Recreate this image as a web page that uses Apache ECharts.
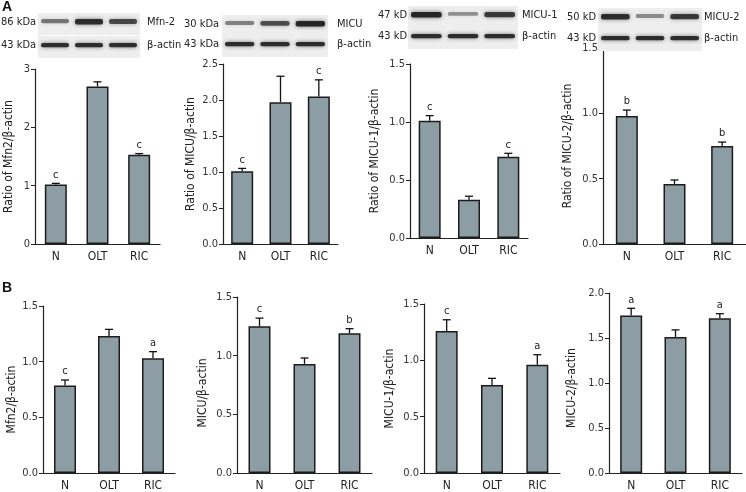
<!DOCTYPE html>
<html>
<head>
<meta charset="utf-8">
<script src="https://cdn.jsdelivr.net/npm/echarts@6/dist/echarts.min.js"></script>
<style>
  html, body { margin: 0; padding: 0; background: #fff; }
  #chart { width: 746px; height: 492px; }
</style>
</head>
<body>
<div id="chart"></div>
<script>
// groups
const cats = ['N', 'OLT', 'RIC']

// row A: ratio to beta-actin (mean, sem, significance letter)
const mfn2A = [1.02, 2.70, 1.53]
const mfn2AErr = [0.02, 0.08, 0.02]
const mfn2ASig = ['c', '', 'c']

const micuA = [1.01, 1.97, 2.05]
const micuAErr = [0.04, 0.36, 0.23]
const micuASig = ['c', '', 'c']

const micu1A = [1.01, 0.33, 0.70]
const micu1AErr = [0.045, 0.03, 0.03]
const micu1ASig = ['c', '', 'c']

const micu2A = [0.98, 0.46, 0.75]
const micu2AErr = [0.045, 0.03, 0.03]
const micu2ASig = ['b', '', 'b']

// row B
const mfn2B = [0.785, 1.23, 1.03]
const mfn2BErr = [0.05, 0.06, 0.06]
const mfn2BSig = ['c', '', 'a']

const micuB = [1.25, 0.93, 1.19]
const micuBErr = [0.07, 0.05, 0.04]
const micuBSig = ['c', '', 'b']

const micu1B = [1.26, 0.78, 0.96]
const micu1BErr = [0.10, 0.06, 0.09]
const micu1BSig = ['c', '', 'a']

const micu2B = [1.75, 1.51, 1.72]
const micu2BErr = [0.08, 0.08, 0.05]
const micu2BSig = ['a', '', 'a']

// western blot band strength per lane (target band, beta-actin)
const blotMfn2 = [0.45, 0.95, 0.75]
const blotMicu = [0.4, 0.7, 1.0]
const blotMicu1 = [1.0, 0.3, 0.85]
const blotMicu2 = [0.95, 0.35, 0.85]
const blotActin = [0.95, 0.95, 0.95]

const FONT = '"DejaVu Sans Condensed", "Liberation Sans", sans-serif'

const panels = [
  { vals: mfn2A, err: mfn2AErr, sig: mfn2ASig, name: 'Ratio of Mfn2/β-actin', max: 3, step: 1, dec: 0, left: 35, top: 69, w: 125, h: 175, gap: 20, shift: 0 },
  { vals: micuA, err: micuAErr, sig: micuASig, name: 'Ratio of MICU/β-actin', max: 2.5, step: 0.5, dec: 1, left: 223, top: 64, w: 115, h: 180, gap: 26, shift: 0 },
  { vals: micu1A, err: micu1AErr, sig: micu1ASig, name: 'Ratio of MICU-1/β-actin', max: 1.5, step: 0.5, dec: 1, left: 410, top: 64, w: 118, h: 174, gap: 29, shift: 0 },
  { vals: micu2A, err: micu2AErr, sig: micu2ASig, name: 'Ratio of MICU-2/β-actin', max: 1.5, step: 0.5, dec: 1, left: 603, top: 48, w: 143, h: 196, gap: 29, shift: 0 },
  { vals: mfn2B, err: mfn2BErr, sig: mfn2BSig, name: 'Mfn2/β-actin', max: 1.5, step: 0.5, dec: 1, left: 43, top: 306, w: 132, h: 170, gap: 25, shift: 20 },
  { vals: micuB, err: micuBErr, sig: micuBSig, name: 'MICU/β-actin', max: 1.5, step: 0.5, dec: 1, left: 237, top: 297, w: 135, h: 179, gap: 28, shift: 16 },
  { vals: micu1B, err: micu1BErr, sig: micu1BSig, name: 'MICU-1/β-actin', max: 1.5, step: 0.5, dec: 1, left: 424, top: 304, w: 136, h: 171, gap: 28, shift: 0 },
  { vals: micu2B, err: micu2BErr, sig: micu2BSig, name: 'MICU-2/β-actin', max: 2.0, step: 0.5, dec: 1, left: 609, top: 293, w: 133, h: 182, gap: 31, shift: 10 }
]

const grid = [], xAxis = [], yAxis = [], series = []

panels.forEach((p, k) => {
  grid.push({ left: p.left, top: p.top, width: p.w, height: p.h })
  xAxis.push({
    type: 'category', gridIndex: k, data: cats,
    axisTick: { show: false },
    axisLine: { lineStyle: { color: '#222', width: 1.2 } },
    axisLabel: { color: '#222', fontSize: 12, fontFamily: FONT, margin: 7 }
  })
  yAxis.push({
    type: 'value', gridIndex: k, min: 0, max: p.max, interval: p.step,
    name: p.name, nameLocation: 'middle', nameRotate: 90, nameGap: p.gap,
    nameTextStyle: { color: '#222', fontSize: 12, fontFamily: FONT, padding: [0, p.shift, 0, 0] },
    axisLine: { show: true, lineStyle: { color: '#222', width: 1.2 } },
    axisTick: { show: true, length: 4, lineStyle: { color: '#222' } },
    splitLine: { show: false },
    axisLabel: {
      color: '#333', fontSize: 11, fontFamily: FONT, margin: 5,
      formatter: v => v.toFixed(p.dec)
    }
  })
  series.push({
    type: 'bar', xAxisIndex: k, yAxisIndex: k, data: p.vals, barWidth: 22,
    itemStyle: { color: '#8c9da3', borderColor: '#1c1c1c', borderWidth: 1.5 },
    silent: true
  })
  series.push({
    type: 'custom', xAxisIndex: k, yAxisIndex: k, z: 5,
    data: p.vals.map((v, i) => [i, v, p.err[i]]),
    renderItem: (params, api) => {
      const i = params.dataIndex
      const v = api.value(1), e = api.value(2)
      const a = api.coord([api.value(0), v])
      const b = api.coord([api.value(0), v + e])
      const x = a[0]
      const st = { stroke: '#111', lineWidth: 1.3 }
      const kids = [
        { type: 'line', shape: { x1: x, y1: a[1], x2: x, y2: b[1] }, style: st },
        { type: 'line', shape: { x1: x - 4, y1: b[1], x2: x + 4, y2: b[1] }, style: st }
      ]
      if (p.sig[i]) {
        kids.push({
          type: 'text', x: x, y: b[1] - 3,
          style: { text: p.sig[i], fill: '#222', font: '11px ' + FONT, align: 'center', verticalAlign: 'bottom' }
        })
      }
      return { type: 'group', children: kids }
    }
  })
})

// blot strip drawn as decoration
function blot (x, y, w, lanes, bandY, bandH) {
  const out = [{ type: 'rect', shape: { x: x, y: y, width: w, height: 22 }, style: { fill: '#eeeeee' }, z: 1 }]
  const lw = w / 3
  lanes.forEach((s, i) => {
    out.push({
      type: 'rect', z: 2,
      shape: { x: x + i * lw + 3, y: y + bandY, width: lw - 6, height: bandH * (0.6 + 0.5 * s), r: 2 },
      style: { fill: 'rgba(25,25,25,' + (0.2 + 0.7 * s).toFixed(2) + ')', shadowBlur: 4, shadowColor: 'rgba(0,0,0,' + (0.6 * s).toFixed(2) + ')' }
    })
  })
  return out
}

function txt (x, y, s) {
  return {
    type: 'text', x: x, y: y, z: 3,
    style: { text: s, fill: '#222', font: '11px ' + FONT, verticalAlign: 'middle' }
  }
}

const blots = [
  { x: 38, w: 102, lanes: blotMfn2, lab: ['86 kDa', '43 kDa'], name: 'Mfn-2', tx: 1, nx: 147, ty: 22, ay: 45 },
  { x: 222, w: 106, lanes: blotMicu, lab: ['30 kDa', '43 kDa'], name: 'MICU', tx: 184, nx: 337, ty: 24, ay: 44 },
  { x: 408, w: 110, lanes: blotMicu1, lab: ['47 kD', '43 kD'], name: 'MICU-1', tx: 378, nx: 522, ty: 15, ay: 36 },
  { x: 598, w: 104, lanes: blotMicu2, lab: ['50 kD', '43 kD'], name: 'MICU-2', tx: 567, nx: 704, ty: 17, ay: 38 }
]

let graphic = []
blots.forEach(b => {
  graphic = graphic.concat(blot(b.x, b.ty - 9, b.w, b.lanes, 6, 5))
  graphic = graphic.concat(blot(b.x, b.ay - 9, b.w, blotActin, 7, 4))
  graphic.push(txt(b.tx, b.ty, b.lab[0]))
  graphic.push(txt(b.tx, b.ay, b.lab[1]))
  graphic.push(txt(b.nx, b.ty, b.name))
  graphic.push(txt(b.nx, b.ay, 'β-actin'))
})
graphic.push({ type: 'text', x: 2, y: 0, style: { text: 'A', fill: '#111', font: 'bold 14px "Liberation Sans", sans-serif' } })
graphic.push({ type: 'text', x: 2, y: 281, style: { text: 'B', fill: '#111', font: 'bold 14px "Liberation Sans", sans-serif' } })

const chart = echarts.init(document.getElementById('chart'), null, { renderer: 'canvas' })
chart.setOption({
  animation: false,
  backgroundColor: '#fff',
  grid, xAxis, yAxis, series, graphic
})
</script>
</body>
</html>
